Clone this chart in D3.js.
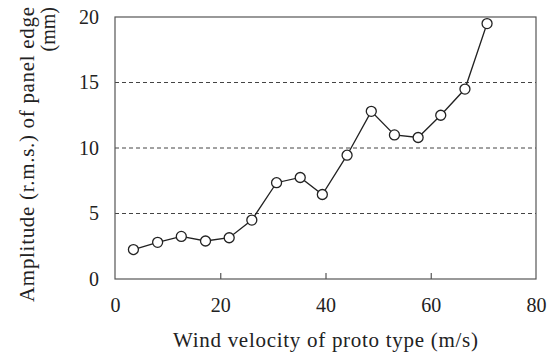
<!DOCTYPE html>
<html>
<head>
<meta charset="utf-8">
<script src="https://cdn.jsdelivr.net/npm/d3@7.9.0/dist/d3.min.js"></script>
<style>
  body { margin: 0; background: #fff; }
  svg, svg text { font-family: 'Liberation Serif', 'Times New Roman', serif; }
</style>
</head>
<body>
<div id="chart"></div>
<script>
// wind velocity (m/s) and amplitude (mm)
const velocity = [3.5, 8.1, 12.6, 17.2, 21.7, 26.0, 30.7, 35.2, 39.4, 44.1, 48.7, 53.1, 57.6, 61.9, 66.5, 70.7];
const amplitude = [2.25, 2.8, 3.25, 2.9, 3.15, 4.5, 7.35, 7.75, 6.45, 9.45, 12.8, 11.0, 10.8, 12.5, 14.5, 19.5];
const xTicks = [0, 20, 40, 60, 80];
const yTicks = [0, 5, 10, 15, 20];
const gridValues = [5, 10, 15];
const xLabel = 'Wind velocity of proto type (m/s)';
const yLabel = ['Amplitude (r.m.s.) of panel edge', '(mm)'];

const width = 557;
const height = 354;
const margin = { top: 17, right: 21, bottom: 75, left: 115 };

const points = velocity.map((v, i) => ({ x: v, y: amplitude[i] }));

const svg = d3
  .select('#chart')
  .append('svg')
  .attr('width', width)
  .attr('height', height);

const xScale = d3.scaleLinear().domain([0, 80]).range([margin.left, width - margin.right]);
const yScale = d3.scaleLinear().domain([0, 20]).range([height - margin.bottom, margin.top]);

// dashed gridlines
svg
  .append('g')
  .selectAll('line')
  .data(gridValues)
  .join('line')
  .attr('x1', xScale(0))
  .attr('x2', xScale(80))
  .attr('y1', (d) => yScale(d))
  .attr('y2', (d) => yScale(d))
  .attr('stroke', '#444')
  .attr('stroke-width', 1)
  .attr('stroke-dasharray', '4,3');

// frame
svg
  .append('rect')
  .attr('x', xScale(0))
  .attr('y', yScale(20))
  .attr('width', xScale(80) - xScale(0))
  .attr('height', yScale(0) - yScale(20))
  .attr('fill', 'none')
  .attr('stroke', '#555')
  .attr('stroke-width', 1.2);

// x axis: inward ticks, labels below
const xAxis = d3
  .axisBottom(xScale)
  .tickValues(xTicks)
  .tickSize(-6)
  .tickPadding(19)
  .tickFormat(d3.format('d'));

const gx = svg
  .append('g')
  .attr('transform', `translate(0, ${yScale(0)})`)
  .call(xAxis)
  .attr('font-family', null)
  .attr('font-size', 20);
gx.select('.domain').remove();
gx.selectAll('.tick line')
  .attr('stroke', '#555')
  .attr('stroke-width', 1.2)
  .filter((d) => d === 0 || d === 80)
  .remove();
gx.selectAll('.tick text').attr('fill', '#222');

// y axis: labels only
const yAxis = d3.axisLeft(yScale).tickValues(yTicks).tickSize(0).tickPadding(16);
const gy = svg
  .append('g')
  .attr('transform', `translate(${xScale(0)}, 0)`)
  .call(yAxis)
  .attr('font-family', null)
  .attr('font-size', 20);
gy.select('.domain').remove();
gy.selectAll('.tick text').attr('fill', '#222');

// line
const line = d3
  .line()
  .x((d) => xScale(d.x))
  .y((d) => yScale(d.y));

svg
  .append('path')
  .datum(points)
  .attr('d', line)
  .attr('fill', 'none')
  .attr('stroke', '#222')
  .attr('stroke-width', 1.3);

// markers
svg
  .append('g')
  .selectAll('circle')
  .data(points)
  .join('circle')
  .attr('cx', (d) => xScale(d.x))
  .attr('cy', (d) => yScale(d.y))
  .attr('r', 5)
  .attr('fill', '#fff')
  .attr('stroke', '#222')
  .attr('stroke-width', 1.3);

// axis titles
svg
  .append('text')
  .attr('x', (xScale(0) + xScale(80)) / 2)
  .attr('y', 347)
  .attr('text-anchor', 'middle')
  .attr('font-size', 21)
  .attr('textLength', 305)
  .attr('lengthAdjust', 'spacing')
  .attr('fill', '#222')
  .text(xLabel);

const yTitle = svg
  .append('g')
  .attr('transform', 'rotate(-90)')
  .attr('font-size', 21)
  .attr('fill', '#222');

yTitle
  .append('text')
  .attr('x', -154.5)
  .attr('y', 33.5)
  .attr('text-anchor', 'middle')
  .attr('textLength', 295)
  .attr('lengthAdjust', 'spacing')
  .text(yLabel[0]);

yTitle
  .append('text')
  .attr('x', -7)
  .attr('y', 55)
  .attr('text-anchor', 'end')
  .attr('font-size', 20)
  .text(yLabel[1]);
</script>
</body>
</html>
